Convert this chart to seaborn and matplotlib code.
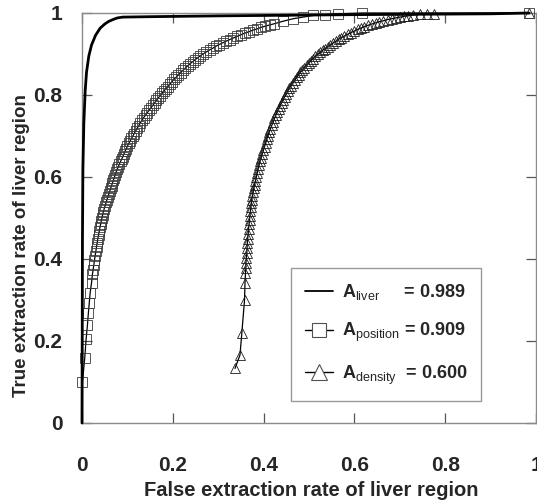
import matplotlib
matplotlib.use("Agg")
import matplotlib.pyplot as plt
import seaborn as sns
import pandas as pd
from matplotlib.lines import Line2D
from matplotlib.ticker import FuncFormatter

# ---------------- data ----------------
liver_x = [0.0, 0.001, 0.002, 0.004, 0.007, 0.010, 0.015, 0.021, 0.030, 0.040,
           0.050, 0.058, 0.068, 0.078, 0.090, 0.150, 0.300, 0.600, 0.900, 0.985]
liver_y = [0.0, 0.450, 0.620, 0.730, 0.810, 0.856, 0.895, 0.922, 0.946, 0.963,
           0.973, 0.979, 0.984, 0.988, 0.990, 0.991, 0.993, 0.996, 0.998, 1.000]

position_x = [0.001, 0.006, 0.009, 0.012, 0.014, 0.016, 0.018, 0.021, 0.023, 0.0245,
              0.026, 0.0275, 0.029, 0.0305, 0.032, 0.0335, 0.035, 0.0365, 0.038, 0.0395,
              0.041, 0.0425, 0.044, 0.0455, 0.047, 0.049, 0.051, 0.053, 0.055, 0.057,
              0.059, 0.061, 0.063, 0.065, 0.067, 0.069, 0.071, 0.073, 0.075, 0.0775,
              0.080, 0.0825, 0.085, 0.0875, 0.090, 0.0925, 0.095, 0.0975, 0.100, 0.103,
              0.106, 0.109, 0.112, 0.115, 0.118, 0.1215, 0.125, 0.1285, 0.132, 0.136,
              0.140, 0.144, 0.148, 0.152, 0.156, 0.160, 0.164, 0.168, 0.172, 0.176,
              0.180, 0.1845, 0.189, 0.1935, 0.198, 0.2025, 0.207, 0.212, 0.217, 0.222,
              0.227, 0.2325, 0.238, 0.2435, 0.249, 0.255, 0.261, 0.2675, 0.274, 0.281,
              0.288, 0.295, 0.302, 0.3095, 0.317, 0.325, 0.333, 0.3415, 0.350, 0.3585,
              0.367, 0.376, 0.385, 0.3945, 0.404, 0.414, 0.424, 0.443, 0.465, 0.487,
              0.509, 0.535, 0.564, 0.617, 0.985]
position_y = [0.100, 0.158, 0.204, 0.239, 0.268, 0.293, 0.318, 0.342, 0.363, 0.374,
              0.385, 0.397, 0.408, 0.419, 0.430, 0.440, 0.450, 0.459, 0.468, 0.477,
              0.485, 0.493, 0.500, 0.508, 0.515, 0.523, 0.530, 0.538, 0.545, 0.552,
              0.558, 0.565, 0.572, 0.579, 0.585, 0.592, 0.598, 0.605, 0.612, 0.619,
              0.625, 0.632, 0.638, 0.644, 0.650, 0.657, 0.663, 0.669, 0.675, 0.682,
              0.688, 0.694, 0.700, 0.706, 0.712, 0.719, 0.725, 0.732, 0.738, 0.745,
              0.751, 0.757, 0.763, 0.769, 0.775, 0.781, 0.787, 0.793, 0.798, 0.804,
              0.809, 0.815, 0.820, 0.826, 0.832, 0.838, 0.843, 0.849, 0.854, 0.860,
              0.865, 0.871, 0.876, 0.881, 0.886, 0.891, 0.896, 0.901, 0.905, 0.910,
              0.914, 0.919, 0.923, 0.927, 0.931, 0.935, 0.939, 0.943, 0.947, 0.951,
              0.954, 0.958, 0.961, 0.965, 0.968, 0.971, 0.974, 0.980, 0.986, 0.990,
              0.994, 0.996, 0.998, 1.000, 1.000]

density_x = [0.337, 0.348, 0.352, 0.358, 0.359, 0.360, 0.361, 0.361, 0.362, 0.363,
             0.3635, 0.364, 0.365, 0.366, 0.367, 0.368, 0.369, 0.370, 0.371, 0.372,
             0.373, 0.374, 0.3755, 0.377, 0.3785, 0.380, 0.382, 0.384, 0.386, 0.388,
             0.390, 0.392, 0.3945, 0.397, 0.3995, 0.402, 0.4045, 0.407, 0.4095, 0.412,
             0.415, 0.418, 0.421, 0.424, 0.427, 0.430, 0.433, 0.436, 0.4395, 0.443,
             0.4465, 0.450, 0.4535, 0.457, 0.461, 0.465, 0.469, 0.473, 0.477, 0.481,
             0.4855, 0.490, 0.4945, 0.499, 0.504, 0.509, 0.514, 0.519, 0.5245, 0.530,
             0.5355, 0.541, 0.547, 0.553, 0.559, 0.565, 0.5715, 0.578, 0.585, 0.592,
             0.5995, 0.607, 0.6145, 0.622, 0.630, 0.638, 0.6465, 0.655, 0.664, 0.673,
             0.682, 0.691, 0.7005, 0.710, 0.719, 0.728, 0.745, 0.760, 0.775, 0.985]
density_y = [0.133, 0.166, 0.219, 0.300, 0.341, 0.365, 0.378, 0.390, 0.402, 0.414,
             0.426, 0.438, 0.450, 0.462, 0.474, 0.485, 0.496, 0.506, 0.516, 0.526,
             0.536, 0.545, 0.554, 0.563, 0.572, 0.580, 0.590, 0.600, 0.610, 0.620,
             0.629, 0.638, 0.647, 0.656, 0.665, 0.674, 0.683, 0.692, 0.700, 0.709,
             0.717, 0.726, 0.734, 0.743, 0.751, 0.759, 0.766, 0.774, 0.781, 0.789,
             0.796, 0.803, 0.810, 0.817, 0.823, 0.830, 0.836, 0.843, 0.849, 0.855,
             0.861, 0.867, 0.872, 0.878, 0.883, 0.889, 0.894, 0.899, 0.904, 0.909,
             0.913, 0.918, 0.922, 0.927, 0.931, 0.936, 0.940, 0.944, 0.948, 0.952,
             0.956, 0.960, 0.963, 0.967, 0.970, 0.973, 0.976, 0.979, 0.981, 0.984,
             0.986, 0.988, 0.990, 0.992, 0.993, 0.995, 0.997, 0.998, 0.998, 1.000]

labels = [r"$\mathbf{A}_{\mathrm{liver}}$     = 0.989",
          r"$\mathbf{A}_{\mathrm{position}}$ = 0.909",
          r"$\mathbf{A}_{\mathrm{density}}$  = 0.600"]
ticks = [0, 0.2, 0.4, 0.6, 0.8, 1.0]
xlabel = "False extraction rate of liver region"
ylabel = "True extraction rate of liver region"

# ---------------- style ----------------
sns.set_style("white")
plt.rcParams["font.family"] = ["Liberation Sans", "DejaVu Sans"]
plt.rcParams["mathtext.fontset"] = "custom"
plt.rcParams["mathtext.rm"] = "Liberation Sans"
plt.rcParams["mathtext.bf"] = "Liberation Sans:bold"
plt.rcParams["mathtext.it"] = "Liberation Sans:italic"

fig = plt.figure(figsize=(5.37, 5.01), dpi=100)
ax = fig.add_axes([82 / 537, 78 / 501, 454 / 537, 410 / 501])

df_l = pd.DataFrame({"x": liver_x, "y": liver_y})
df_p = pd.DataFrame({"x": position_x, "y": position_y})
df_d = pd.DataFrame({"x": density_x, "y": density_y})

sns.lineplot(data=df_d, x="x", y="y", sort=False, estimator=None, ax=ax,
             color="black", linewidth=0.9, marker="^", markersize=7.5,
             markerfacecolor="none", markeredgecolor="#1a1a1a", markeredgewidth=0.6,
             clip_on=False, zorder=3)
sns.lineplot(data=df_p, x="x", y="y", sort=False, estimator=None, ax=ax,
             color="black", linewidth=0.9, marker="s", markersize=6.5,
             markerfacecolor="none", markeredgecolor="#3a3a3a", markeredgewidth=0.6,
             clip_on=False, zorder=3)
sns.lineplot(data=df_l, x="x", y="y", sort=False, estimator=None, ax=ax,
             color="black", linewidth=2.0, clip_on=False, zorder=4)

ax.set_xlim(0, 1)
ax.set_ylim(0, 1)
ax.set_xticks(ticks)
ax.set_yticks(ticks)
fmt = FuncFormatter(lambda v, p: "%g" % v)
ax.xaxis.set_major_formatter(fmt)
ax.yaxis.set_major_formatter(fmt)
for s in ax.spines.values():
    s.set_color("#8a8a8a")
    s.set_linewidth(1.0)
ax.tick_params(direction="in", length=7, width=0.9, color="#555555",
               top=True, right=True, bottom=True, left=True, labelsize=15)
ax.tick_params(axis="x", pad=24)
ax.tick_params(axis="y", pad=14)
for lab in ax.get_xticklabels() + ax.get_yticklabels():
    lab.set_fontweight("bold")
ax.set_xlabel(xlabel, fontsize=14.5, fontweight="bold")
ax.set_ylabel(ylabel, fontsize=13.5, fontweight="bold")
ax.xaxis.label.set_va("center")
ax.yaxis.label.set_va("center")
ax.xaxis.set_label_coords((311 - 82) / 454, (423 - 490) / 410)
ax.yaxis.set_label_coords((22 - 82) / 454, (423 - 246) / 410)

edge = "#505050"
handles = [
    Line2D([], [], color="black", linewidth=1.3),
    Line2D([], [], color="black", linewidth=1.0, marker="s", markersize=10,
           markerfacecolor="white", markeredgecolor=edge, markeredgewidth=0.8),
    Line2D([], [], color="black", linewidth=1.0, marker="^", markersize=11,
           markerfacecolor="white", markeredgecolor=edge, markeredgewidth=0.8),
]
leg = ax.legend(handles, labels, loc="lower left",
                bbox_to_anchor=((291 - 82) / 454, (423 - 401) / 410, 190 / 454, 129 / 410),
                mode="expand", frameon=True, fancybox=False, edgecolor="#808080",
                prop={"weight": "bold", "size": 13}, handlelength=1.5,
                labelspacing=1.05, borderpad=0.8, handletextpad=0.5, borderaxespad=0)
leg.get_frame().set_linewidth(1.0)

fig.savefig("out.png", dpi=100)
